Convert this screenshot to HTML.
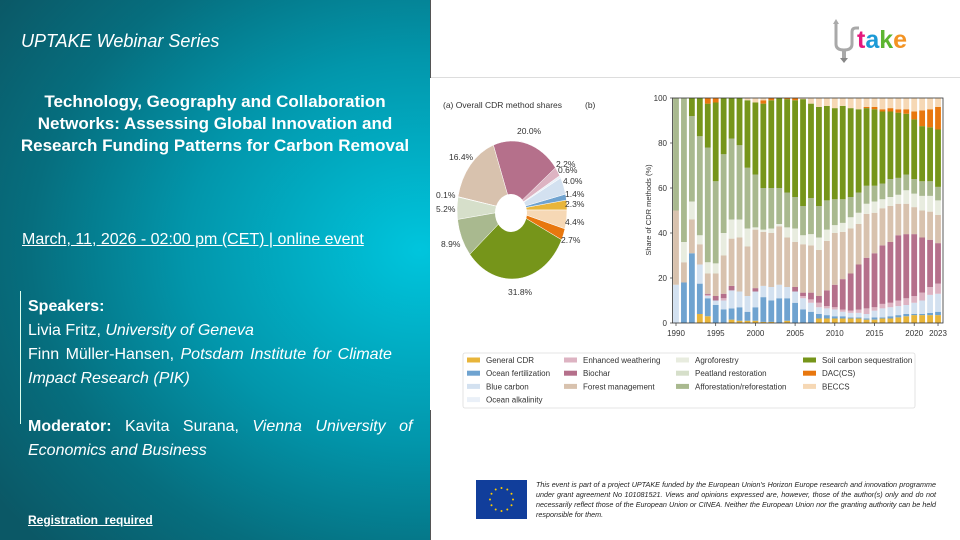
<!DOCTYPE html>
<html><head><meta charset="utf-8"><style>
*{margin:0;padding:0;box-sizing:border-box}
body{width:960px;height:540px;overflow:hidden;background:#fff;font-family:"Liberation Sans",sans-serif;position:relative}
#left{position:absolute;left:0;top:0;width:430px;height:540px;background:radial-gradient(ellipse 520px 430px at 420px 250px,#00c5dd 0%,#0296ab 45%,#066e7e 75%,#0b5866 100%);color:#fff}
.t{position:absolute;white-space:nowrap}
</style></head><body>
<div id="left">
<div class="t" style="left:21px;top:31px;font-size:18px;font-style:italic">UPTAKE Webinar Series</div>
<div class="t" style="left:0;width:430px;top:91px;font-size:17px;font-weight:bold;text-align:center;line-height:22px">Technology, Geography and Collaboration<br>Networks: Assessing Global Innovation and<br>Research Funding Patterns for Carbon Removal</div>
<div class="t" style="left:22px;top:231px;font-size:16px;text-decoration:underline">March, 11, 2026 - 02:00 pm (CET) | online event</div>
<div style="position:absolute;left:20px;top:291px;width:1px;height:133px;background:#dfe"></div>
<div class="t" style="left:28px;top:295px;font-size:16px;line-height:24px;width:385px;white-space:normal">
<b>Speakers:</b><br>Livia Fritz, <i>University of Geneva</i><br><span style="word-spacing:2px">Finn Müller-Hansen, <i>Potsdam Institute for Climate</i></span><br><i>Impact Research (PIK)</i><br><br><span style="word-spacing:9px"><b>Moderator:</b> Kavita Surana, <i>Vienna University of</i></span><br><i>Economics and Business</i></div>
<div class="t" style="left:28px;top:513px;font-size:12px;font-weight:bold;text-decoration:underline">Registration&nbsp; required</div>
</div>
<div style="position:absolute;left:430px;top:0;width:1px;height:78px;background:#555"></div>
<div style="position:absolute;left:430px;top:410px;width:1px;height:130px;background:#555"></div>
<div style="position:absolute;left:431px;top:77px;width:529px;height:1px;background:#ddd"></div>
<svg style="position:absolute;left:830px;top:18px" width="30" height="46" viewBox="0 0 30 46"><path d="M6 4 V26 Q6 32 14 32 Q22 32 22 26 V14 Q22 10 26 10 H29" fill="none" stroke="#a9a9a9" stroke-width="3"/><path d="M14 32 V42" stroke="#a9a9a9" stroke-width="4"/><path d="M10 40 L14 45 L18 40Z" fill="#888"/><path d="M3 6 L6 1 L9 6Z" fill="#aaa"/></svg>
<div class="t" style="left:857px;top:26px;font-size:25px;font-weight:bold"><span style="color:#e4197d">t</span><span style="color:#1b9ad6">a</span><span style="color:#5cb531">k</span><span style="color:#f39323">e</span></div>
<svg id="ch" style="position:absolute;left:0;top:0" width="960" height="540"></svg>
<div style="position:absolute;left:476px;top:480px;width:51px;height:39px;background:#113e9b"></div>
<svg style="position:absolute;left:476px;top:480px" width="51" height="39"><g fill="#fc0">
<circle cx="25.5" cy="8" r="1"/><circle cx="25.5" cy="31" r="1"/><circle cx="14" cy="19.5" r="1"/><circle cx="37" cy="19.5" r="1"/><circle cx="19.7" cy="9.5" r="1"/><circle cx="31.3" cy="9.5" r="1"/><circle cx="19.7" cy="29.5" r="1"/><circle cx="31.3" cy="29.5" r="1"/><circle cx="15.5" cy="13.7" r="1"/><circle cx="35.5" cy="13.7" r="1"/><circle cx="15.5" cy="25.3" r="1"/><circle cx="35.5" cy="25.3" r="1"/></g></svg>
<div class="t" style="left:536px;top:480px;width:400px;white-space:normal;font-size:7.2px;line-height:10px;font-style:italic;text-align:justify;color:#222">This event is part of a project UPTAKE funded by the European Union's Horizon Europe research and innovation programme under grant agreement No 101081521. Views and opinions expressed are, however, those of the author(s) only and do not necessarily reflect those of the European Union or CINEA. Neither the European Union nor the granting authority can be held responsible for them.</div>
<script>
var C=['#e8b53a','#6fa3d0','#d3e1f0','#ddb3c2','#b5708b','#d8c2ae','#e8ecdf','#d6dfca','#a9b98f','#76951a','#e8770e','#f6d8b5'];
var D=[
[0,0,17,17,17,50,50,50,100,100,100,100],
[0,18,18,18,18,27,36,36,100,100,100,100],
[0,31,31,31,31,46,54,54,92,100,100,100],
[4,17.5,26,26,26,35,39,39,83,100,100,100],
[3,11,12,12.5,13,22,27,27,78,97.5,100,100],
[0,8,10,10,12,22,26.5,26.5,63,98,100,100],
[0,6,10,11,13,30,40,40,75,100,100,100],
[1.5,6.5,14.5,14.5,16.5,37.5,46,46,82,100,100,100],
[1,7,14,14,14,38,46,46,79,100,100,100],
[1,5,12,12,12,34,42,42,69,99,99,100],
[1,7,14,14,15.5,41.5,42.5,42.5,66,98,98,100],
[0.5,11.5,16.5,16.5,16.5,40.5,41.5,41.5,60,97.5,99,100],
[0.5,10,16,16,16,40,42,42,60,99,100,100],
[0,11,17,17,17,43,44,44,60,100,100,100],
[1,11,16,16,16,38,42.5,42.5,58,99.5,100,100],
[0,9,14,14,16,36,42,42,56,99,100,100],
[0,6,11,12,13.5,35,39,39,52,99.5,99.5,100],
[0,5,9,10.5,13.5,34.5,39.5,39.5,55.5,97.5,97.5,100],
[2,4,7,9,12,32.5,38,38,52,96,96,100],
[2,3.5,6.5,7.5,14.5,36.5,41.5,41.5,54.5,96.5,96.5,100],
[2,3,6,7,17,40,43.5,43.5,55,95.5,95.5,100],
[2,3,5,6,19.5,40.5,44.5,44.5,55,96.5,96.5,100],
[2,2.5,4.5,5.5,22,42,47,47,56,95.5,95.5,100],
[2,2.5,4.5,6,26,44,49,49,58,95,95,100],
[1.5,2,4,6.5,29,48.5,53,53,61,95.5,96,100],
[1.5,2.5,5.5,7,31,49,54,54,61,95,96,100],
[2,2.5,6.5,8.5,34.5,51,55,55,62,94,95,100],
[2,3,7,9,36,52,56,56,64,94,95.5,100],
[2.5,3.5,7.5,10,39,53,57,57,64.5,93.5,95,100],
[3,4,8,11,39.5,53,59,59,66,93,95,100],
[3.5,4,9,12,39.5,51.5,57.5,57.5,64,90.5,94,100],
[3.5,4,10,13.5,38,50,56.5,56.5,63,87.5,94.5,100],
[3.5,4.5,12.5,16,37,49.5,56.5,56.5,63,87,95,100],
[3.5,5,13,17.5,35.5,48,54.5,54.5,60.5,86,96,100]];
var s='',y0=323,H=2.25;
function Y(v){return y0-v*H}
for(var i=0;i<34;i++){var x=676+i*7.94-2.9,p=0;for(var k=0;k<12;k++){var t=D[i][k];if(t>p){s+='<rect x="'+x.toFixed(2)+'" y="'+Y(t).toFixed(2)+'" width="5.8" height="'+((t-p)*H).toFixed(2)+'" fill="'+C[k]+'"/>';}p=Math.max(p,t);}}
s+='<rect x="672.5" y="98" width="270.5" height="225" fill="none" stroke="#333" stroke-width="0.8"/>';
for(var v=0;v<=100;v+=20){s+='<line x1="670" x2="672.5" y1="'+Y(v)+'" y2="'+Y(v)+'" stroke="#333" stroke-width="0.7"/><text x="667" y="'+(Y(v)+3)+'" font-size="8" text-anchor="end" fill="#333">'+v+'</text>';}
[1990,1995,2000,2005,2010,2015,2020,2023].forEach(function(yr){var x=676+(yr-1990)*7.94;s+='<line x1="'+x+'" x2="'+x+'" y1="323" y2="326" stroke="#333" stroke-width="0.7"/><text x="'+x+'" y="336" font-size="8" text-anchor="middle" fill="#333">'+yr+'</text>';});
s+='<text transform="translate(651,210) rotate(-90)" font-size="7.5" text-anchor="middle" fill="#333">Share of CDR methods (%)</text>';
var P=[[2.3,0],[1.4,1],[4.0,2],[0.6,12],[2.2,3],[20.0,4],[16.4,5],[0.1,6],[5.2,7],[8.9,8],[31.8,9],[2.7,10],[4.4,11]];
var C2=C.concat(['#eaf0f8']);
var cx=512,cy=210,rx=55,ry=69,a=0;
P.forEach(function(q){var b=a+q[0]/100*2*Math.PI;var x1=cx+rx*Math.cos(a),y1=cy-ry*Math.sin(a),x2=cx+rx*Math.cos(b),y2=cy-ry*Math.sin(b);
s+='<path d="M'+cx+' '+cy+' L'+x1+' '+y1+' A'+rx+' '+ry+' 0 '+(b-a>Math.PI?1:0)+' 0 '+x2+' '+y2+'Z" fill="'+C2[q[1]]+'" stroke="#fff" stroke-width="0.5"/>';a=b;});
s+='<ellipse cx="'+(cx-1)+'" cy="'+(cy+3)+'" rx="16" ry="19" fill="#fff"/>';
var L=[['20.0%',517,134],['16.4%',449,160],['2.2%',556,167],['0.6%',558,173],['4.0%',563,184],['1.4%',565,197],['2.3%',565,207],['4.4%',565,225],['2.7%',561,243],['0.1%',436,198],['5.2%',436,212],['8.9%',441,247],['31.8%',508,295]];
L.forEach(function(l){s+='<text x="'+l[1]+'" y="'+l[2]+'" font-size="8.5" fill="#333">'+l[0]+'</text>';});
s+='<text x="443" y="108" font-size="8.5" fill="#333">(a) Overall CDR method shares</text><text x="585" y="108" font-size="8.5" fill="#333">(b)</text>';
s+='<rect x="463" y="353" width="452" height="55" fill="#fff" stroke="#ddd" stroke-width="0.8" rx="2"/>';
var G=[['General CDR',0,0,0],['Ocean fertilization',1,0,1],['Blue carbon',2,0,2],['Ocean alkalinity','#eaf0f8',0,3],['Enhanced weathering',3,1,0],['Biochar',4,1,1],['Forest management',5,1,2],['Agroforestry',6,2,0],['Peatland restoration',7,2,1],['Afforestation/reforestation',8,2,2],['Soil carbon sequestration',9,3,0],['DAC(CS)',10,3,1],['BECCS',11,3,2]];
var cxs=[467,564,676,803];
G.forEach(function(g){var col=typeof g[1]=='string'?g[1]:C[g[1]];var x=cxs[g[2]],y=360+g[3]*13.2;s+='<rect x="'+x+'" y="'+(y-2.5)+'" width="13" height="5" fill="'+col+'"/><text x="'+(x+19)+'" y="'+(y+3)+'" font-size="8" fill="#333">'+g[0]+'</text>';});
document.getElementById('ch').innerHTML=s;
</script>
</body></html>
